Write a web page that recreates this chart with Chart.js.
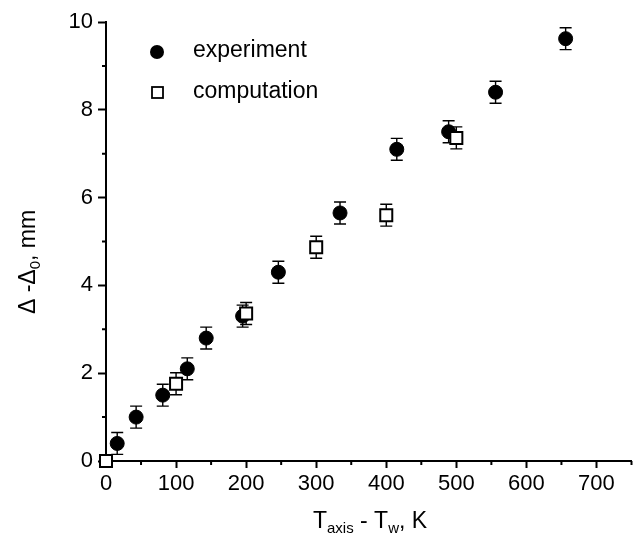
<!DOCTYPE html>
<html>
<head>
<meta charset="utf-8">
<script src="https://cdn.jsdelivr.net/npm/chart.js@4.4.1/dist/chart.umd.min.js"></script>
<style>
  html, body { margin: 0; padding: 0; background: #fff; }
  #wrap { width: 642px; height: 542px; }
</style>
</head>
<body>
<div id="wrap"><canvas id="c" width="642" height="542"></canvas></div>
<script>
// ---- data ----
const expX   = [16, 43, 81, 116, 143, 195, 246, 334, 415, 489, 556, 656];
const expY   = [0.40, 1.00, 1.50, 2.10, 2.80, 3.30, 4.30, 5.65, 7.10, 7.50, 8.40, 9.62];
const expErr = [0.25, 0.25, 0.25, 0.25, 0.25, 0.25, 0.25, 0.25, 0.25, 0.25, 0.25, 0.25];

const compX   = [0, 100, 200, 300, 400, 500];
const compY   = [0, 1.76, 3.36, 4.87, 5.60, 7.36];
const compErr = [0, 0.25, 0.25, 0.25, 0.25, 0.25];

const xTicks = [0, 100, 200, 300, 400, 500, 600, 700];
const xMinor = [50, 150, 250, 350, 450, 550, 650, 750];
const yTicks = [0, 2, 4, 6, 8, 10];
const yMinor = [1, 3, 5, 7, 9];

const seriesNames = ['experiment', 'computation'];

const FONT = '"Liberation Sans", Arial, Helvetica, sans-serif';

function pts(xs, ys) { return xs.map((x, i) => ({ x: x, y: ys[i] })); }

const overlay = {
  id: 'overlay',
  beforeDatasetsDraw(chart) {
    const ctx = chart.ctx;
    const xs = chart.scales.x, ys = chart.scales.y;
    ctx.save();
    ctx.strokeStyle = '#000';
    ctx.lineWidth = 1.4;
    const bars = [[expX, expY, expErr], [compX, compY, compErr]];
    bars.forEach(([X, Y, E]) => {
      X.forEach((xv, i) => {
        if (!E[i]) return;
        const px = xs.getPixelForValue(xv);
        const p1 = ys.getPixelForValue(Y[i] - E[i]);
        const p2 = ys.getPixelForValue(Y[i] + E[i]);
        ctx.beginPath();
        ctx.moveTo(px, p1); ctx.lineTo(px, p2);
        ctx.moveTo(px - 6, p1); ctx.lineTo(px + 6, p1);
        ctx.moveTo(px - 6, p2); ctx.lineTo(px + 6, p2);
        ctx.stroke();
      });
    });
    ctx.restore();
  },
  afterDraw(chart) {
    const ctx = chart.ctx;
    const xs = chart.scales.x, ys = chart.scales.y;
    const a = chart.chartArea;
    ctx.save();
    // minor ticks
    ctx.strokeStyle = '#000';
    ctx.lineWidth = 2;
    ctx.beginPath();
    xMinor.forEach(v => {
      const px = xs.getPixelForValue(v);
      ctx.moveTo(px, a.bottom); ctx.lineTo(px, a.bottom + 4);
    });
    yMinor.forEach(v => {
      const py = ys.getPixelForValue(v);
      ctx.moveTo(a.left, py); ctx.lineTo(a.left - 4, py);
    });
    ctx.stroke();

    ctx.fillStyle = '#000';
    // x axis title: T_axis - T_w, K
    const big = 23, small = 15;
    const parts = [
      ['T', big, 0], ['axis', small, 5], [' - T', big, 0], ['w', small, 5], [', K', big, 0]
    ];
    let total = 0;
    parts.forEach(p => { ctx.font = p[1] + 'px ' + FONT; total += ctx.measureText(p[0]).width; });
    let x = 370 - total / 2;
    const base = 528;
    ctx.textBaseline = 'alphabetic';
    ctx.textAlign = 'left';
    parts.forEach(p => {
      ctx.font = p[1] + 'px ' + FONT;
      ctx.fillText(p[0], x, base + p[2]);
      x += ctx.measureText(p[0]).width;
    });

    // y axis title: Δ -Δ_0, mm (rotated)
    ctx.save();
    ctx.translate(35, 262);
    ctx.rotate(-Math.PI / 2);
    const yparts = [['\u0394 -\u0394', big, 0], ['0', small, 5], [', mm', big, 0]];
    total = 0;
    yparts.forEach(p => { ctx.font = p[1] + 'px ' + FONT; total += ctx.measureText(p[0]).width; });
    x = -total / 2;
    yparts.forEach(p => {
      ctx.font = p[1] + 'px ' + FONT;
      ctx.fillText(p[0], x, p[2]);
      x += ctx.measureText(p[0]).width;
    });
    ctx.restore();

    // legend
    ctx.beginPath();
    ctx.arc(157, 52, 7, 0, Math.PI * 2);
    ctx.fill();
    ctx.fillStyle = '#fff';
    ctx.fillRect(152, 87, 11, 11);
    ctx.lineWidth = 1.8;
    ctx.strokeRect(152, 87, 11, 11);
    ctx.fillStyle = '#000';
    ctx.font = '23px ' + FONT;
    ctx.fillText(seriesNames[0], 193, 57);
    ctx.fillText(seriesNames[1], 193, 98);
    ctx.restore();
  }
};

new Chart(document.getElementById('c'), {
  type: 'scatter',
  data: {
    datasets: [
      {
        label: seriesNames[1],
        data: pts(compX, compY),
        pointStyle: 'rect',
        pointRadius: 8.5,
        backgroundColor: '#fff',
        borderColor: '#000',
        borderWidth: 2,
        clip: false
      },
      {
        label: seriesNames[0],
        data: pts(expX, expY),
        pointStyle: 'circle',
        pointRadius: 7,
        backgroundColor: '#000',
        borderColor: '#000',
        borderWidth: 1,
        clip: false
      }
    ]
  },
  options: {
    responsive: false,
    animation: false,
    events: [],
    layout: { padding: { left: 0, top: 22, right: 9, bottom: 0 } },
    plugins: { legend: { display: false }, tooltip: { enabled: false } },
    scales: {
      x: {
        type: 'linear',
        min: 0, max: 750,
        afterBuildTicks: s => { s.ticks = xTicks.map(v => ({ value: v })); },
        afterFit: s => { s.height = 81; },
        grid: { drawOnChartArea: false, drawTicks: true, tickLength: 7, tickColor: '#000', tickWidth: 2 },
        border: { display: true, color: '#000', width: 2 },
        ticks: { color: '#000', font: { family: FONT, size: 22 }, padding: 3, maxRotation: 0, autoSkip: false }
      },
      y: {
        type: 'linear',
        min: 0, max: 10,
        afterBuildTicks: s => { s.ticks = yTicks.map(v => ({ value: v })); },
        afterFit: s => { s.width = 106; },
        grid: { drawOnChartArea: false, drawTicks: true, tickLength: 8, tickColor: '#000', tickWidth: 2 },
        border: { display: true, color: '#000', width: 2 },
        ticks: { color: '#000', font: { family: FONT, size: 22 }, padding: 5, autoSkip: false }
      }
    }
  },
  plugins: [overlay]
});
</script>
</body>
</html>
